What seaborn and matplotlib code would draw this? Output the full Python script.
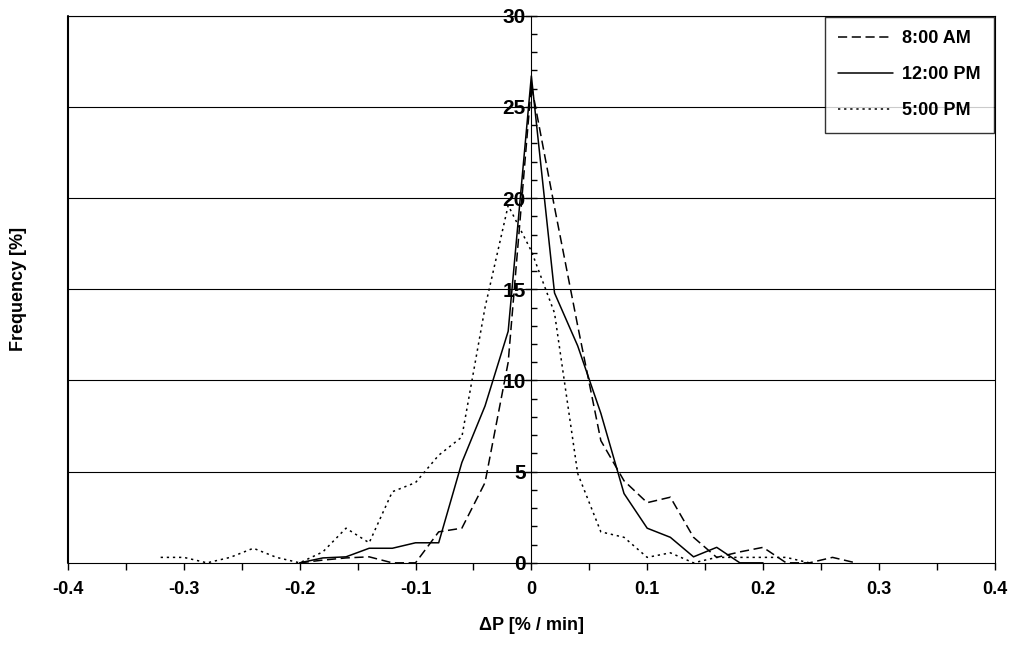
import matplotlib
matplotlib.use('Agg')
import matplotlib.pyplot as plt
import seaborn as sns
import pandas as pd
from matplotlib.ticker import MultipleLocator, FixedLocator

# x positions in %/min (step 0.02)
dp_8am = [-0.20, -0.18, -0.16, -0.14, -0.12, -0.10, -0.08, -0.06, -0.04, -0.02, 0.00,
          0.02, 0.04, 0.06, 0.08, 0.10, 0.12, 0.14, 0.16, 0.18, 0.20, 0.22, 0.24, 0.26, 0.28]
freq_8am = [0.0, 0.15, 0.27, 0.33, 0.0, 0.0, 1.7, 1.9, 4.4, 11.0, 26.2,
            19.5, 13.0, 6.7, 4.5, 3.3, 3.6, 1.4, 0.3, 0.6, 0.85, 0.0, 0.0, 0.3, 0.0]

dp_12pm = [-0.20, -0.18, -0.16, -0.14, -0.12, -0.10, -0.08, -0.06, -0.04, -0.02, 0.00,
           0.02, 0.04, 0.06, 0.08, 0.10, 0.12, 0.14, 0.16, 0.18, 0.20]
freq_12pm = [0.0, 0.27, 0.33, 0.8, 0.8, 1.1, 1.1, 5.5, 8.6, 12.7, 26.7,
             14.8, 11.9, 8.2, 3.8, 1.9, 1.4, 0.33, 0.85, 0.0, 0.0]

dp_5pm = [-0.32, -0.30, -0.28, -0.26, -0.24, -0.22, -0.20, -0.18, -0.16, -0.14, -0.12,
          -0.10, -0.08, -0.06, -0.04, -0.02, 0.00, 0.02, 0.04, 0.06, 0.08, 0.10, 0.12,
          0.14, 0.16, 0.18, 0.20, 0.22, 0.24]
freq_5pm = [0.3, 0.3, 0.0, 0.3, 0.8, 0.3, 0.0, 0.6, 1.9, 1.1, 3.9,
            4.4, 5.9, 6.9, 14.0, 19.6, 17.1, 13.7, 4.9, 1.7, 1.4, 0.3, 0.55,
            0.0, 0.3, 0.3, 0.3, 0.3, 0.0]

sns.set_style('white')
plt.rcParams['font.family'] = ['Liberation Sans', 'DejaVu Sans']
plt.rcParams.update({'text.color': 'black', 'axes.labelcolor': 'black',
                     'xtick.color': 'black', 'ytick.color': 'black'})

fig, ax = plt.subplots(figsize=(10.15, 6.56), dpi=100)
fig.subplots_adjust(left=0.067, right=0.980, top=0.976, bottom=0.142)

for x, y, ls, lab in [(dp_8am, freq_8am, (0, (6, 3)), '8:00 AM'),
                      (dp_12pm, freq_12pm, '-', '12:00 PM'),
                      (dp_5pm, freq_5pm, (0, (1.5, 2.5)), '5:00 PM')]:
    sns.lineplot(x=x, y=y, ax=ax, color='black', lw=1.1, linestyle=ls, label=lab)

ax.set_xlim(-0.4, 0.4)
ax.set_ylim(0, 30)
for v in range(5, 31, 5):
    ax.axhline(v, color='black', lw=0.8, zorder=0)

ax.spines['left'].set_position(('data', 0))
for s in ['top', 'right', 'bottom']:
    ax.spines[s].set_visible(True)
    ax.spines[s].set_color('black')
ax.spines['left'].set_color('black')
ax.axvline(-0.4, color='black', lw=1.5, clip_on=False)

ax.xaxis.set_major_locator(FixedLocator([-0.4, -0.3, -0.2, -0.1, 0, 0.1, 0.2, 0.3, 0.4]))
ax.xaxis.set_minor_locator(MultipleLocator(0.05))
ax.set_xticklabels(['-0.4', '-0.3', '-0.2', '-0.1', '0', '0.1', '0.2', '0.3', '0.4'])
ax.yaxis.set_major_locator(MultipleLocator(5))
ax.yaxis.set_minor_locator(MultipleLocator(1))
ax.tick_params(axis='x', which='both', direction='out', length=5, width=1, bottom=True, labelsize=13, pad=8)
ax.tick_params(axis='y', which='major', direction='inout', length=8, width=1, left=True, labelsize=15, pad=0)
ax.tick_params(axis='y', which='minor', direction='in', length=4, width=1, left=True)
for t in ax.get_xticklabels() + ax.get_yticklabels():
    t.set_fontweight('bold')

ax.set_xlabel('ΔP [% / min]', fontsize=13, fontweight='bold', labelpad=14)
fig.text(0.018, 0.56, 'Frequency [%]', rotation=90, fontsize=13, fontweight='bold', va='center', ha='center')
ax.set_ylabel('')

leg = ax.legend(loc='upper right', frameon=True, fancybox=False, edgecolor='black',
                prop={'weight': 'bold', 'size': 13}, handlelength=3.0, labelspacing=1.05,
                borderpad=0.75, handletextpad=0.5, borderaxespad=0.05)
leg.get_frame().set_linewidth(1.0)

fig.savefig('out.png')
